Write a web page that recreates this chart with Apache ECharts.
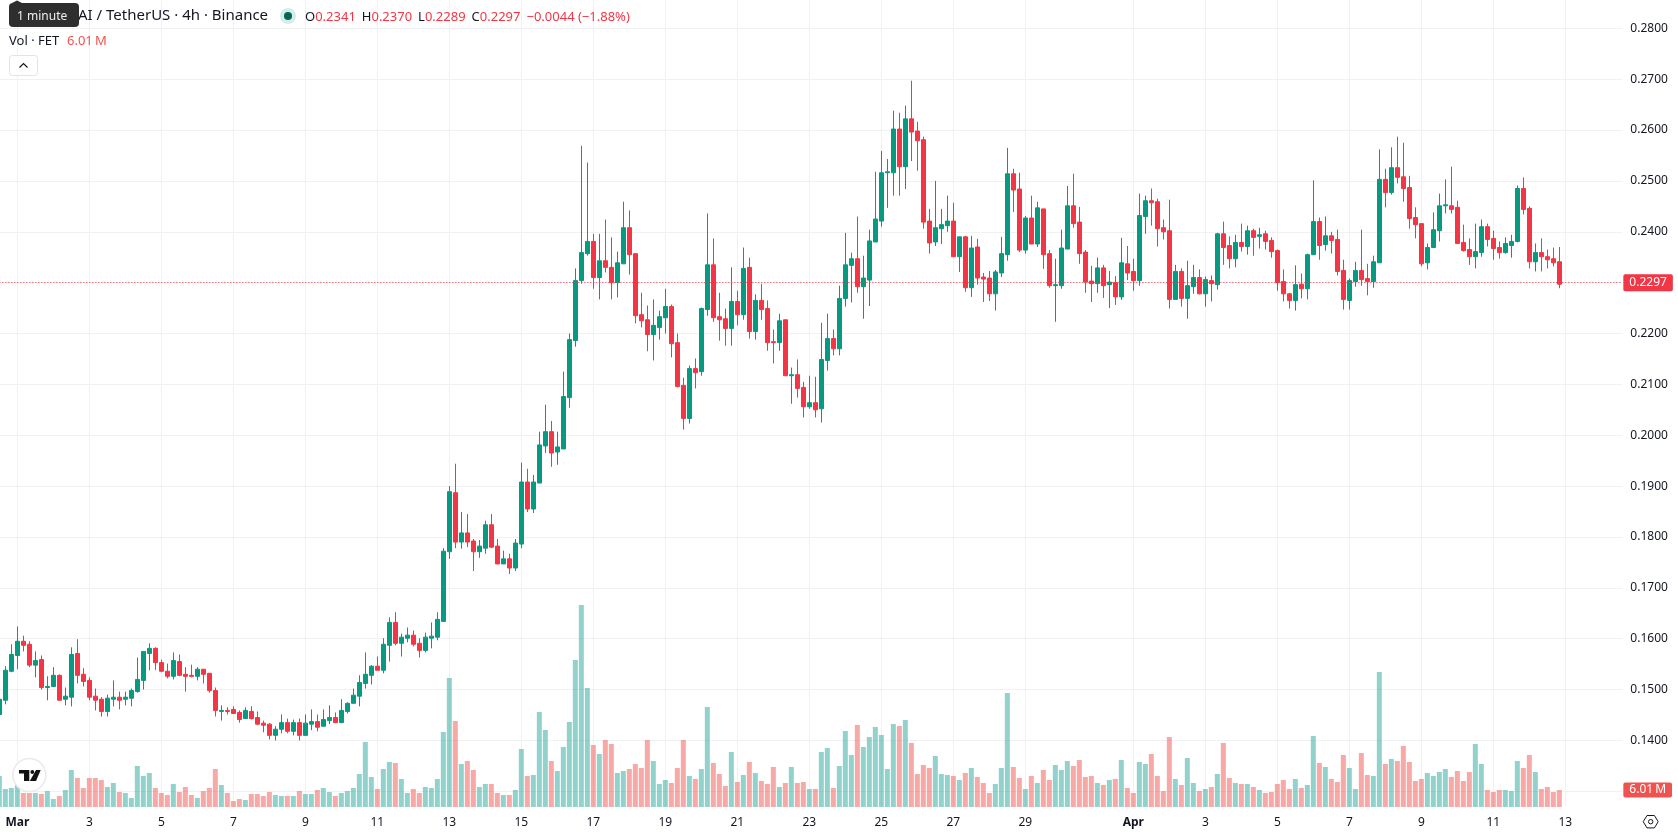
<!DOCTYPE html>
<html>
<head>
<meta charset="utf-8">
<title>FET / USDT 4h</title>
<style>html,body{margin:0;padding:0;background:#fff}#chart{width:1678px;height:835px}</style>
<script src="https://cdn.jsdelivr.net/npm/echarts@6/dist/echarts.min.js"></script>
</head>
<body>
<div id="chart"></div>
<script>
// 4-hour candles, oldest first. The first bar opens on 29 Feb at 12:00 UTC.
const opens = [
0.1451,0.1479,0.1536,0.1567,0.1595,0.1589,0.1548,0.1559,0.1504,0.1506,
0.1528,0.1481,0.1485,0.1571,0.1530,0.1518,0.1487,0.1481,0.1457,0.1481,
0.1485,0.1481,0.1483,0.1496,0.1518,0.1571,0.1581,0.1553,0.1536,0.1526,
0.1555,0.1530,0.1528,0.1526,0.1540,0.1532,0.1498,0.1457,0.1459,0.1461,
0.1455,0.1443,0.1457,0.1445,0.1434,0.1432,0.1410,0.1422,0.1435,0.1418,
0.1435,0.1410,0.1432,0.1437,0.1428,0.1439,0.1445,0.1435,0.1457,0.1473,
0.1487,0.1512,0.1528,0.1546,0.1538,0.1587,0.1632,0.1591,0.1601,0.1607,
0.1591,0.1577,0.1601,0.1603,0.1634,0.1771,0.1887,0.1790,0.1808,0.1792,
0.1771,0.1778,0.1824,0.1782,0.1747,0.1757,0.1739,0.1786,0.1908,0.1855,
0.1906,0.1979,0.2007,0.1967,0.1973,0.2074,0.2186,0.2304,0.2357,0.2381,
0.2310,0.2343,0.2330,0.2300,0.2337,0.2408,0.2357,0.2237,0.2227,0.2198,
0.2212,0.2231,0.2253,0.2182,0.2098,0.2033,0.2131,0.2125,0.2247,0.2335,
0.2233,0.2229,0.2210,0.2263,0.2237,0.2330,0.2204,0.2265,0.2249,0.2184,
0.2182,0.2227,0.2117,0.2119,0.2094,0.2056,0.2064,0.2052,0.2147,0.2190,
0.2170,0.2269,0.2334,0.2347,0.2292,0.2305,0.2380,0.2421,0.2516,0.2516,
0.2602,0.2528,0.2622,0.2598,0.2581,0.2421,0.2380,0.2406,0.2412,0.2421,
0.2351,0.2390,0.2290,0.2370,0.2311,0.2309,0.2278,0.2319,0.2355,0.2514,
0.2484,0.2364,0.2427,0.2376,0.2445,0.2357,0.2294,0.2294,0.2366,0.2451,
0.2419,0.2360,0.2303,0.2298,0.2329,0.2296,0.2300,0.2272,0.2337,0.2322,
0.2304,0.2430,0.2461,0.2459,0.2408,0.2402,0.2267,0.2322,0.2269,0.2292,
0.2310,0.2278,0.2304,0.2296,0.2396,0.2373,0.2347,0.2379,0.2371,0.2402,
0.2391,0.2396,0.2383,0.2363,0.2302,0.2278,0.2265,0.2297,0.2288,0.2355,
0.2420,0.2375,0.2392,0.2385,0.2324,0.2265,0.2302,0.2324,0.2308,0.2302,
0.2339,0.2503,0.2477,0.2526,0.2508,0.2487,0.2428,0.2416,0.2339,0.2369,
0.2402,0.2451,0.2451,0.2448,0.2379,0.2365,0.2351,0.2359,0.2410,0.2387,
0.2369,0.2359,0.2373,0.2381,0.2485,0.2446,0.2341,0.2359,0.2351,0.2347,0.2341];
const highs = [
0.1481,0.1546,0.1589,0.1624,0.1606,0.1595,0.1575,0.1567,0.1526,0.1544,
0.1530,0.1504,0.1583,0.1599,0.1542,0.1524,0.1502,0.1485,0.1490,0.1518,
0.1496,0.1496,0.1502,0.1563,0.1575,0.1591,0.1583,0.1559,0.1551,0.1573,
0.1569,0.1544,0.1549,0.1544,0.1540,0.1532,0.1504,0.1469,0.1465,0.1467,
0.1459,0.1465,0.1467,0.1457,0.1439,0.1434,0.1428,0.1451,0.1443,0.1441,
0.1443,0.1451,0.1461,0.1451,0.1461,0.1469,0.1455,0.1481,0.1475,0.1502,
0.1528,0.1573,0.1548,0.1565,0.1601,0.1642,0.1652,0.1610,0.1622,0.1616,
0.1601,0.1612,0.1632,0.1652,0.1778,0.1900,0.1944,0.1849,0.1845,0.1796,
0.1794,0.1832,0.1845,0.1796,0.1773,0.1767,0.1796,0.1946,0.1934,0.1922,
0.2007,0.2060,0.2028,0.2007,0.2125,0.2200,0.2328,0.2569,0.2536,0.2396,
0.2396,0.2424,0.2389,0.2361,0.2459,0.2442,0.2357,0.2280,0.2255,0.2267,
0.2245,0.2288,0.2257,0.2200,0.2113,0.2137,0.2151,0.2251,0.2436,0.2387,
0.2280,0.2249,0.2330,0.2284,0.2369,0.2349,0.2277,0.2298,0.2265,0.2208,
0.2239,0.2227,0.2133,0.2149,0.2105,0.2117,0.2115,0.2221,0.2239,0.2208,
0.2294,0.2398,0.2359,0.2430,0.2353,0.2404,0.2518,0.2559,0.2543,0.2638,
0.2634,0.2648,0.2697,0.2616,0.2587,0.2445,0.2500,0.2445,0.2471,0.2457,
0.2390,0.2392,0.2392,0.2386,0.2319,0.2323,0.2325,0.2390,0.2565,0.2524,
0.2516,0.2431,0.2471,0.2459,0.2445,0.2364,0.2347,0.2404,0.2490,0.2514,
0.2449,0.2364,0.2333,0.2349,0.2335,0.2323,0.2313,0.2388,0.2372,0.2347,
0.2475,0.2471,0.2485,0.2465,0.2424,0.2463,0.2335,0.2328,0.2343,0.2335,
0.2326,0.2312,0.2314,0.2398,0.2420,0.2391,0.2394,0.2416,0.2412,0.2406,
0.2408,0.2402,0.2389,0.2365,0.2326,0.2280,0.2334,0.2318,0.2357,0.2501,
0.2428,0.2430,0.2400,0.2404,0.2345,0.2308,0.2341,0.2404,0.2337,0.2353,
0.2562,0.2524,0.2566,0.2587,0.2575,0.2510,0.2448,0.2416,0.2377,0.2438,
0.2475,0.2503,0.2528,0.2461,0.2414,0.2387,0.2416,0.2424,0.2416,0.2402,
0.2381,0.2389,0.2394,0.2491,0.2507,0.2450,0.2377,0.2387,0.2365,0.2369,0.2370];
const lows = [
0.1451,0.1471,0.1534,0.1540,0.1575,0.1544,0.1524,0.1500,0.1479,0.1506,
0.1479,0.1469,0.1467,0.1512,0.1506,0.1479,0.1459,0.1447,0.1447,0.1467,
0.1461,0.1469,0.1467,0.1494,0.1500,0.1538,0.1538,0.1534,0.1522,0.1520,
0.1526,0.1496,0.1524,0.1518,0.1512,0.1494,0.1447,0.1439,0.1451,0.1453,
0.1435,0.1443,0.1441,0.1430,0.1416,0.1402,0.1400,0.1414,0.1414,0.1410,
0.1400,0.1410,0.1420,0.1418,0.1428,0.1432,0.1434,0.1434,0.1453,0.1473,
0.1467,0.1502,0.1510,0.1538,0.1532,0.1555,0.1587,0.1565,0.1593,0.1585,
0.1563,0.1573,0.1581,0.1597,0.1634,0.1757,0.1778,0.1777,0.1780,0.1733,
0.1759,0.1767,0.1778,0.1747,0.1747,0.1727,0.1733,0.1778,0.1849,0.1847,
0.1906,0.1965,0.1938,0.1942,0.1973,0.2054,0.2174,0.2298,0.2353,0.2288,
0.2267,0.2320,0.2267,0.2271,0.2337,0.2316,0.2220,0.2212,0.2165,0.2147,
0.2188,0.2200,0.2153,0.2094,0.2011,0.2023,0.2092,0.2117,0.2235,0.2223,
0.2186,0.2176,0.2176,0.2216,0.2227,0.2190,0.2188,0.2227,0.2166,0.2141,
0.2166,0.2117,0.2062,0.2074,0.2035,0.2052,0.2035,0.2025,0.2127,0.2157,
0.2157,0.2253,0.2261,0.2280,0.2229,0.2254,0.2380,0.2410,0.2447,0.2471,
0.2471,0.2484,0.2539,0.2520,0.2406,0.2357,0.2372,0.2376,0.2400,0.2351,
0.2321,0.2282,0.2272,0.2296,0.2262,0.2264,0.2245,0.2311,0.2343,0.2439,
0.2360,0.2357,0.2376,0.2370,0.2327,0.2290,0.2223,0.2288,0.2366,0.2408,
0.2337,0.2280,0.2262,0.2280,0.2270,0.2250,0.2256,0.2266,0.2305,0.2284,
0.2294,0.2396,0.2412,0.2371,0.2385,0.2249,0.2267,0.2253,0.2229,0.2278,
0.2277,0.2253,0.2263,0.2286,0.2335,0.2328,0.2330,0.2361,0.2355,0.2353,
0.2367,0.2365,0.2349,0.2284,0.2263,0.2249,0.2245,0.2269,0.2267,0.2355,
0.2345,0.2363,0.2357,0.2314,0.2247,0.2247,0.2292,0.2294,0.2275,0.2290,
0.2339,0.2448,0.2473,0.2495,0.2459,0.2406,0.2387,0.2332,0.2326,0.2369,
0.2381,0.2436,0.2436,0.2377,0.2361,0.2335,0.2328,0.2351,0.2371,0.2345,
0.2347,0.2357,0.2349,0.2379,0.2434,0.2328,0.2322,0.2322,0.2328,0.2332,0.2289];
const closes = [
0.1481,0.1538,0.1569,0.1595,0.1587,0.1548,0.1557,0.1504,0.1506,0.1528,
0.1479,0.1487,0.1569,0.1528,0.1516,0.1485,0.1479,0.1457,0.1483,0.1485,
0.1479,0.1485,0.1498,0.1520,0.1575,0.1581,0.1553,0.1536,0.1526,0.1557,
0.1528,0.1526,0.1526,0.1540,0.1530,0.1498,0.1459,0.1459,0.1457,0.1453,
0.1441,0.1459,0.1443,0.1432,0.1430,0.1410,0.1422,0.1435,0.1418,0.1435,
0.1410,0.1434,0.1437,0.1426,0.1441,0.1445,0.1435,0.1459,0.1473,0.1489,
0.1514,0.1530,0.1546,0.1538,0.1589,0.1632,0.1591,0.1603,0.1607,0.1589,
0.1577,0.1603,0.1605,0.1638,0.1772,0.1889,0.1790,0.1808,0.1790,0.1771,
0.1782,0.1824,0.1780,0.1747,0.1757,0.1739,0.1788,0.1908,0.1855,0.1908,
0.1981,0.2007,0.1965,0.1977,0.2076,0.2188,0.2304,0.2359,0.2381,0.2310,
0.2343,0.2330,0.2300,0.2339,0.2408,0.2355,0.2235,0.2225,0.2198,0.2216,
0.2233,0.2253,0.2180,0.2096,0.2033,0.2131,0.2123,0.2249,0.2335,0.2231,
0.2227,0.2210,0.2263,0.2237,0.2328,0.2204,0.2265,0.2247,0.2182,0.2182,
0.2225,0.2117,0.2119,0.2092,0.2056,0.2064,0.2050,0.2149,0.2190,0.2170,
0.2269,0.2335,0.2347,0.2292,0.2309,0.2382,0.2425,0.2516,0.2518,0.2602,
0.2528,0.2622,0.2596,0.2579,0.2419,0.2378,0.2408,0.2414,0.2421,0.2351,
0.2390,0.2290,0.2368,0.2309,0.2307,0.2278,0.2321,0.2357,0.2514,0.2482,
0.2364,0.2427,0.2376,0.2447,0.2355,0.2294,0.2296,0.2368,0.2451,0.2416,
0.2357,0.2301,0.2298,0.2329,0.2294,0.2301,0.2272,0.2339,0.2319,0.2304,
0.2432,0.2461,0.2457,0.2406,0.2400,0.2267,0.2322,0.2269,0.2294,0.2310,
0.2278,0.2306,0.2298,0.2396,0.2369,0.2347,0.2379,0.2371,0.2402,0.2389,
0.2394,0.2381,0.2361,0.2300,0.2278,0.2265,0.2296,0.2288,0.2355,0.2420,
0.2373,0.2392,0.2383,0.2322,0.2267,0.2304,0.2324,0.2306,0.2302,0.2341,
0.2503,0.2477,0.2526,0.2507,0.2485,0.2426,0.2414,0.2337,0.2369,0.2404,
0.2451,0.2453,0.2444,0.2377,0.2363,0.2351,0.2361,0.2410,0.2385,0.2367,
0.2359,0.2377,0.2381,0.2485,0.2444,0.2341,0.2359,0.2351,0.2345,0.2339,0.2297];
// Traded volume per bar, in millions of FET.
const volumes = [
10.96,6.36,6.71,7.77,4.95,4.95,4.95,4.59,5.65,2.83,
3.89,6.01,13.08,10.25,6.71,10.25,10.25,9.54,7.07,8.48,
5.30,4.95,3.18,14.49,10.96,12.02,6.71,4.95,4.24,8.13,
5.30,7.07,4.24,3.18,5.65,6.71,13.43,7.77,4.95,2.12,
2.83,2.47,4.59,4.59,3.89,5.30,4.24,3.89,3.89,3.89,
5.65,4.59,4.59,6.01,6.71,5.30,3.89,4.95,5.65,6.71,
11.66,22.97,10.60,6.36,13.43,15.90,15.55,9.90,4.95,6.36,
4.95,7.07,6.71,9.90,26.51,45.59,30.39,15.20,16.26,13.08,
7.07,8.13,8.13,4.95,4.24,4.24,6.01,20.50,10.96,11.31,
33.57,27.21,16.26,12.72,21.20,30.04,51.95,71.39,42.05,21.91,
18.73,23.68,22.26,12.02,12.72,13.43,15.20,13.78,23.68,16.26,
8.13,9.54,8.48,13.78,23.68,10.96,9.90,13.43,35.34,15.55,
11.66,7.42,19.44,8.84,11.31,15.90,12.02,9.19,8.13,14.14,
7.07,8.48,14.14,8.48,8.84,6.36,6.36,19.44,20.85,6.71,
14.49,26.86,18.38,28.98,21.20,24.74,28.27,25.44,13.43,29.33,
28.63,30.75,22.62,11.66,14.84,13.78,18.02,11.66,11.31,10.96,
9.54,12.02,13.78,10.60,8.48,4.95,8.13,13.78,40.29,14.14,
10.25,6.36,10.96,8.48,13.08,9.54,14.84,13.08,16.26,14.49,
16.61,10.60,10.96,8.48,7.77,9.54,9.90,16.61,6.71,4.95,
15.90,15.20,18.73,10.96,5.65,24.74,9.90,7.77,17.32,8.48,
5.65,6.36,7.07,11.66,22.62,10.25,8.48,8.13,8.13,7.07,
6.01,4.95,5.30,8.13,9.54,6.36,9.90,6.71,7.77,25.09,
15.55,14.14,9.90,8.84,18.38,13.78,6.36,19.08,11.31,10.96,
47.71,15.20,16.96,16.26,21.56,15.90,9.19,9.90,12.02,10.96,
12.37,13.43,10.60,12.72,9.19,12.37,22.26,15.20,6.01,5.30,
6.01,6.01,5.65,16.26,13.78,18.38,12.37,6.36,7.07,5.30,6.01];
// Date axis labels: the two month starts are set in bold.
const tickDates = ['03-01','03-03','03-05','03-07','03-09','03-11','03-13','03-15','03-17','03-19','03-21','03-23','03-25','03-27','03-29','04-01','04-03','04-05','04-07','04-09','04-11','04-13'];
const tickLabels = ['Mar','3','5','7','9','11','13','15','17','19','21','23','25','27','29','Apr','3','5','7','9','11','13'];
const emptyBarsOnRight = 10;
const titleText = 'AI / TetherUS \u00b7 4h \u00b7 Binance';
const tooltipText = '1 minute';
const volumeTitle = 'Vol \u00b7 FET';

const UP = '#089981', DOWN = '#F23645';
const VOL_UP = 'rgba(38,166,154,0.5)', VOL_DOWN = 'rgba(239,83,80,0.5)';
const GRID = '#f0f1f3', INK = '#131722';
const FONT = '"Noto Sans", sans-serif';

const last = closes.length - 1;
const pad2 = n => String(n).padStart(2, '0');
const startMs = Date.UTC(2024, 1, 29, 12);
const categories = [];
for (let i = 0; i < closes.length + emptyBarsOnRight; i++) {
  const d = new Date(startMs + i * 4 * 3600 * 1000);
  categories.push(pad2(d.getUTCMonth() + 1) + '-' + pad2(d.getUTCDate()) + ' ' + pad2(d.getUTCHours()));
}
const labelFor = {};
tickDates.forEach((d, i) => { labelFor[d + ' 00'] = tickLabels[i]; });
const isTick = (index, value) => value in labelFor;

const candles = closes.map((c, i) => [opens[i], c, lows[i], highs[i]]);
const change = closes[last] - opens[last];
const sign = v => (v < 0 ? '\u2212' : '+');
const changeText = sign(change) + Math.abs(change).toFixed(4) + ' (' + sign(change) + (Math.abs(change) / opens[last] * 100).toFixed(2) + '%)';
const volumeText = volumes[last].toFixed(2) + '\u202fM';

// The first bar is cut by the left edge, so the plot starts just off the canvas.
const gridLeft = -3.67, gridWidth = 1626;
const ohlcRich = {
  k: { fill: INK, fontSize: 13, fontFamily: FONT },
  v: { fill: DOWN, fontSize: 13, fontFamily: FONT, padding: [0, 6, 0, 0] }
};

// Legend, badge and icons sit on top of the grid lines.
const overlay = [
  // Symbol line of the legend
  { type: 'text', x: 78, y: 8, style: { text: titleText, fill: INK, font: '15px ' + FONT } },
  { type: 'circle', shape: { cx: 288, cy: 16, r: 8 }, style: { fill: '#d6ece8' } },
  { type: 'circle', shape: { cx: 288, cy: 16, r: 4 }, style: { fill: '#056656' } },
  {
    type: 'text', x: 305, y: 11,
    style: {
      text: '{k|O}{v|' + opens[last].toFixed(4) + '}{k|H}{v|' + highs[last].toFixed(4) + '}{k|L}{v|' + lows[last].toFixed(4) + '}{k|C}{v|' + closes[last].toFixed(4) + '}{v|' + changeText + '}',
      rich: ohlcRich
    }
  },
  // Volume legend and collapse button
  { type: 'text', x: 9, y: 35, style: { text: volumeTitle, fill: INK, font: '13px ' + FONT } },
  { type: 'text', x: 67, y: 35, style: { text: volumeText, fill: '#EF5350', font: '13px ' + FONT } },
  { type: 'rect', shape: { x: 9.5, y: 55.5, width: 28, height: 20, r: 3 }, style: { fill: '#fff', stroke: '#e0e3eb', lineWidth: 1 } },
  { type: 'polyline', shape: { points: [[19.5, 67.5], [23.5, 63.5], [27.5, 67.5]] }, style: { fill: 'none', stroke: INK, lineWidth: 1.2 } },
  // Hover hint box over the start of the symbol line
  { type: 'polygon', shape: { points: [[12, 3], [17, 0.5], [22, 3]] }, style: { fill: '#2e2e2e' } },
  { type: 'rect', shape: { x: 9, y: 3, width: 70, height: 24, r: 4 }, style: { fill: '#2e2e2e' } },
  { type: 'text', x: 17, y: 11, style: { text: tooltipText, fill: '#eee', font: '12px ' + FONT } },
  // Brand badge
  { type: 'circle', shape: { cx: 29.3, cy: 775, r: 16.5 }, style: { fill: '#fff', stroke: '#eaeaea', lineWidth: 1.5 } },
  { type: 'polygon', shape: { points: [[19, 770], [29.3, 770], [29.3, 781], [24, 781], [24, 773.5], [19, 773.5]] }, style: { fill: '#111' } },
  { type: 'circle', shape: { cx: 32.3, cy: 772, r: 1.9 }, style: { fill: '#111' } },
  { type: 'polygon', shape: { points: [[36, 770], [40.7, 770], [36, 781], [29.8, 781]] }, style: { fill: '#111' } },
  // Scale settings icon
  { type: 'polygon', shape: { points: [[1643.2, 821.7], [1647, 815.5], [1654.4, 815.5], [1658.2, 821.7], [1654.4, 827.9], [1647, 827.9]] }, style: { fill: 'none', stroke: INK, lineWidth: 1 } },
  { type: 'circle', shape: { cx: 1650.7, cy: 821.7, r: 2.2 }, style: { fill: 'none', stroke: INK, lineWidth: 1 } }
];

const chart = echarts.init(document.getElementById('chart'), null, { renderer: 'canvas' });
chart.setOption({
  animation: false,
  backgroundColor: '#fff',
  tooltip: { show: false },
  grid: [
    { left: gridLeft, width: gridWidth, top: 28.3, height: 763, outerBoundsMode: 'none' },
    { left: gridLeft, width: gridWidth, top: 0, height: 807, outerBoundsMode: 'none' }
  ],
  xAxis: [
    { type: 'category', gridIndex: 0, data: categories, show: false },
    {
      type: 'category', gridIndex: 1, data: categories,
      axisLine: { show: false }, axisTick: { show: false },
      splitLine: { show: true, interval: isTick, alignWithLabel: true, lineStyle: { color: GRID, width: 1 } },
      axisLabel: {
        interval: isTick, margin: 10, color: INK, fontFamily: FONT, fontSize: 12,
        formatter: v => {
          const t = labelFor[v];
          return /[A-Za-z]/.test(t) ? '{b|' + t + '}' : t;
        },
        rich: { b: { fontWeight: 'bold', color: INK, fontFamily: FONT, fontSize: 12 } }
      }
    }
  ],
  yAxis: [
    {
      type: 'value', gridIndex: 0, position: 'right', min: 0.13, max: 0.28, interval: 0.01,
      axisLine: { show: false }, axisTick: { show: false },
      splitLine: { show: true, lineStyle: { color: GRID, width: 1 } },
      axisLabel: {
        margin: 8, color: INK, fontFamily: FONT, fontSize: 12, padding: [2, 0, 0, 0],
        formatter: v => (v < 0.135 ? '' : v.toFixed(4))
      }
    },
    { type: 'value', gridIndex: 1, min: 0, max: 285.2, show: false, splitLine: { show: false } }
  ],
  series: [
    {
      type: 'bar', name: 'Volume', xAxisIndex: 1, yAxisIndex: 1, barWidth: 5,
      data: volumes,
      itemStyle: { color: p => (closes[p.dataIndex] >= opens[p.dataIndex] ? VOL_UP : VOL_DOWN) },
      markLine: {
        silent: true, symbol: 'none', animation: false,
        lineStyle: { color: 'rgba(0,0,0,0)', width: 1 },
        data: [{ yAxis: volumes[last] }],
        label: {
          show: true, position: 'end', distance: 1, formatter: () => volumeText, color: '#fff',
          backgroundColor: '#EF5350', padding: [2, 6, 1, 6], borderRadius: 2,
          fontFamily: FONT, fontSize: 12
        }
      }
    },
    {
      type: 'candlestick', name: 'FET/USDT', xAxisIndex: 0, yAxisIndex: 0, barWidth: 4,
      data: candles,
      itemStyle: { color: UP, color0: DOWN, borderColor: UP, borderColor0: DOWN, borderWidth: 1 },
      markLine: {
        silent: true, symbol: 'none', animation: false,
        lineStyle: { type: [1, 2], color: DOWN, width: 1 },
        data: [{ yAxis: closes[last] }],
        label: {
          position: 'end', distance: 1, formatter: () => closes[last].toFixed(4), color: '#fff',
          backgroundColor: DOWN, padding: [3, 6, 2, 6], borderRadius: 2,
          fontFamily: FONT, fontSize: 12
        }
      }
    }
  ],
  graphic: overlay.map(el => Object.assign({ z: 100 }, el))
});
</script>
</body>
</html>
